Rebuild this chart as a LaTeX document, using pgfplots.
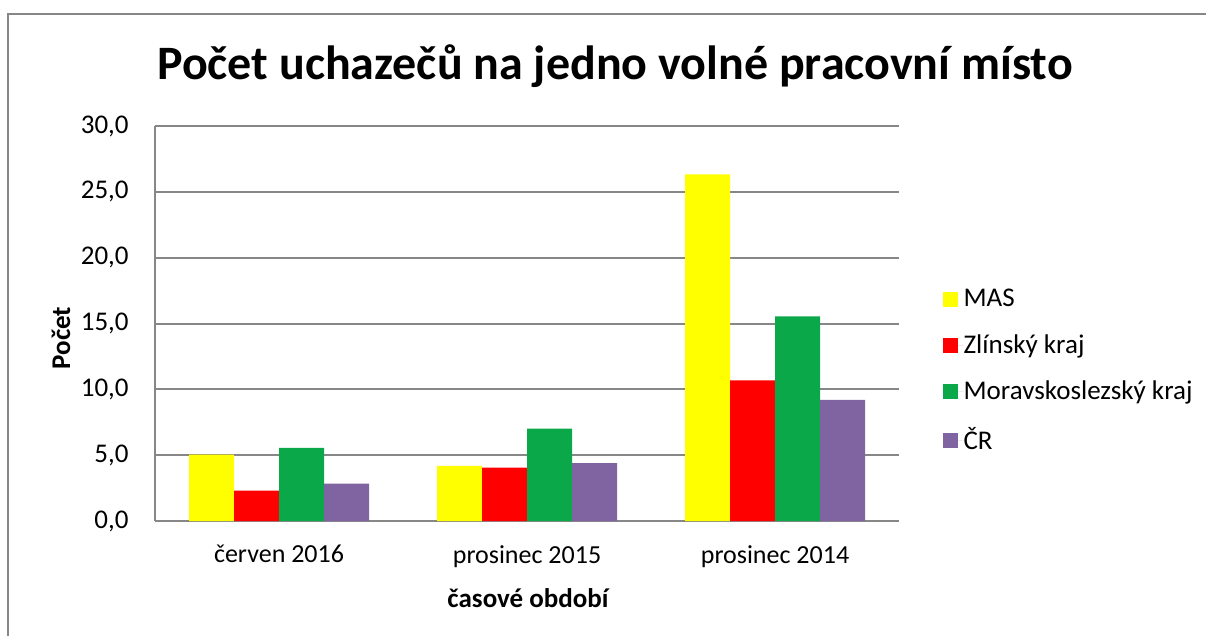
\documentclass[border=0pt]{standalone}
\usepackage{fontspec}
\setmainfont{Carlito}
\usepackage{pgfplots}
\pgfplotsset{compat=1.18}
\definecolor{cMAS}{HTML}{FFFF00}
\definecolor{cZL}{HTML}{FF0000}
\definecolor{cMS}{HTML}{0BA84A}
\definecolor{cCR}{HTML}{8064A2}
\definecolor{gridc}{HTML}{878787}
\begin{document}
\begin{tikzpicture}
\begin{scope}[x=0.5bp,y=-0.5bp]
\useasboundingbox (0,0) rectangle (1206,636);
\draw[gridc, line width=1bp] (8,636) -- (8,14) -- (1206,14);
\node[font=\fontsize{24bp}{28bp}\selectfont\bfseries] at (615,66) {Počet uchazečů na jedno volné pracovní místo};
\node[rotate=90, font=\fontsize{13.5bp}{16bp}\selectfont\bfseries] at (61,338) {Počet};
\node[font=\fontsize{13.5bp}{16bp}\selectfont\bfseries] at (528,598) {časové období};
\end{scope}
\begin{axis}[
  at={(77.5bp,-260.5bp)}, anchor=south west,
  scale only axis, width=372bp, height=197.5bp,
  ybar=0pt, bar width=22.5bp,
  xmin=-0.5, xmax=2.5, ymin=0, ymax=30,
  xtick={0,1,2}, xticklabels={červen 2016, prosinec 2015, prosinec 2014},
  ytick={0,5,...,30},
  axis x line=bottom, axis y line=left,
  axis line style={gridc, line width=1bp, -},
  major tick length=0pt,
  ymajorgrids, grid style={gridc, line width=1bp},
  tick label style={font=\fontsize{13.5bp}{16bp}\selectfont, text=black},
  yticklabel style={inner sep=0pt, xshift=-13bp},
  xticklabel style={inner sep=0pt, anchor=north, yshift=-12bp, font=\fontsize{13bp}{16bp}\selectfont},
  /pgf/number format/.cd, fixed, fixed zerofill, precision=1, use comma, assume math mode=true,
  /pgfplots/.cd,
  legend style={at={(axis description cs:1.058,0.38)}, anchor=west, draw=none, fill=none,
    font=\fontsize{13.5bp}{16bp}\selectfont, inner sep=0pt, row sep=12.5bp,
    nodes={inner sep=0pt, text=black}},
  legend cell align=left,
  legend image code/.code={\fill[#1] (0bp,-3.75bp) rectangle (7.5bp,3.75bp); \path (0bp,0bp) -- (10.5bp,0bp);},
]
\addplot[draw=none, fill=cMAS] coordinates {(0,5.05) (1,4.19) (2,26.33)};
\addplot[draw=none, fill=cZL] coordinates {(0,2.31) (1,4.06) (2,10.68)};
\addplot[draw=none, fill=cMS] coordinates {(0,5.56) (1,7.01) (2,15.55)};
\addplot[draw=none, fill=cCR] coordinates {(0,2.84) (1,4.39) (2,9.21)};
\legend{MAS, Zlínský kraj, Moravskoslezský kraj, ČR}
\end{axis}
\end{tikzpicture}
\end{document}
